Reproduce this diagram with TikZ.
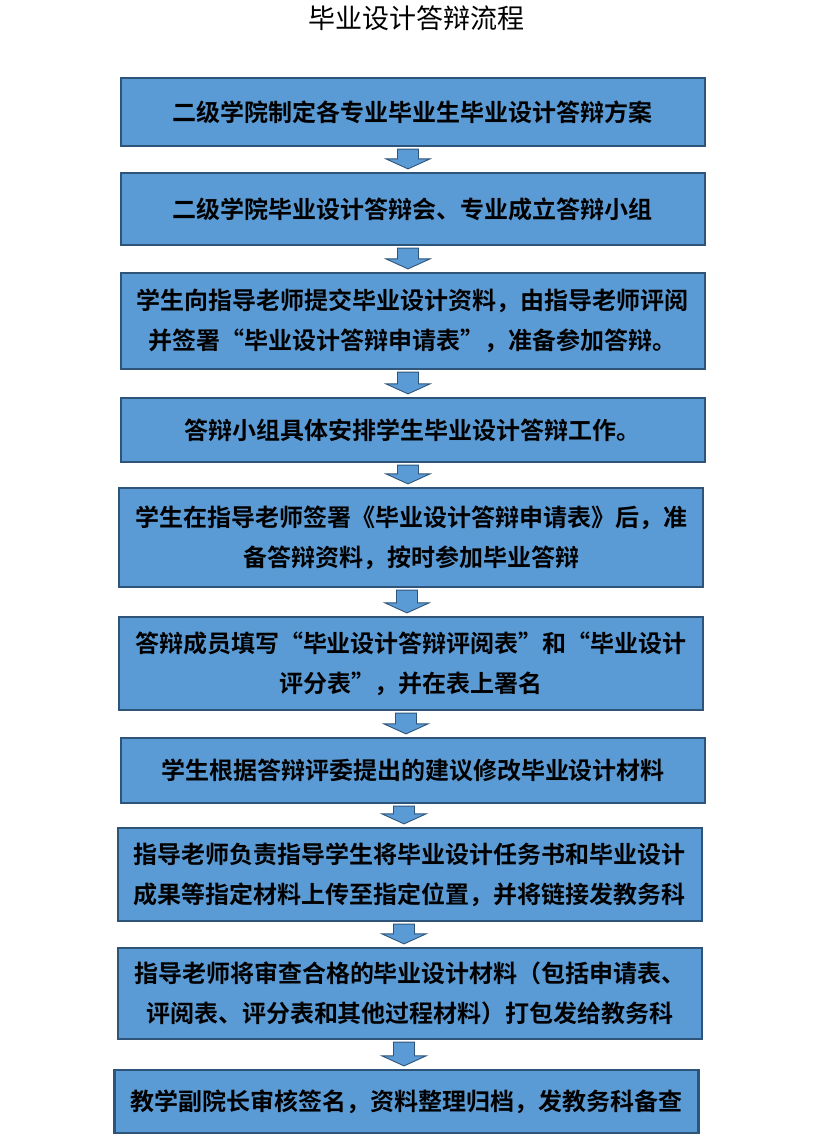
\documentclass[tikz,border=0pt]{standalone}
\usepackage{fontspec}
\newfontfamily\cjk{Noto Sans CJK SC}[BoldFont={Noto Sans CJK SC Bold}]
\usetikzlibrary{calc}

\definecolor{stepfill}{RGB}{91,155,213}
\definecolor{stepline}{RGB}{46,84,122}

\begin{document}
\begin{tikzpicture}[x=1pt,y=-1pt,
  stepbox/.style={draw=stepline,line width=2.2pt,fill=stepfill,rectangle,
    minimum width=584pt,inner sep=0pt,align=center,
    font=\cjk\bfseries\fontsize{24pt}{40pt}\selectfont},
  arrowbox/.style={draw=stepline,line width=0.9pt,fill=stepfill,line join=miter}]

\useasboundingbox (0,0) rectangle (831,1144);

\newcommand\flowarrow[3]{%
  \draw[arrowbox] let \p1=(#1.south), \p2=(#2.north) in
    (#3pt-10.5pt,\y1-2pt) -- (#3pt+10.5pt,\y1-2pt) -- (#3pt+10.5pt,\y2+13pt)
    -- (#3pt+22pt,\y2+13pt) -- (#3pt,\y2+3pt) -- (#3pt-22pt,\y2+13pt)
    -- (#3pt-10.5pt,\y2+13pt) -- cycle;}

%% title
\node[font=\cjk\fontsize{27pt}{30pt}\selectfont] (title) at (416,18) {毕业设计答辩流程};

%% steps
\node[stepbox,minimum height=68pt] (s1) at (412.75,112)
  {二级学院制定各专业毕业生毕业设计答辩方案};
\node[stepbox,minimum height=72pt] (s2) at (412.75,209)
  {二级学院毕业设计答辩会、专业成立答辩小组};
\node[stepbox,minimum height=96pt] (s3) at (412.75,321)
  {学生向指导老师提交毕业设计资料，由指导老师评阅\\并签署“毕业设计答辩申请表”，准备参加答辩。};
\node[stepbox,minimum height=64pt] (s4) at (412.75,430)
  {答辩小组具体安排学生毕业设计答辩工作。};
\node[stepbox,minimum height=99pt] (s5) at (411.25,537.5)
  {学生在指导老师签署《毕业设计答辩申请表》后，准\\备答辩资料，按时参加毕业答辩};
\node[stepbox,minimum height=93pt] (s6) at (411,663.5)
  {答辩成员填写“毕业设计答辩评阅表”和“毕业设计\\评分表”，并在表上署名};
\node[stepbox,minimum height=65pt] (s7) at (413,770.5)
  {学生根据答辩评委提出的建议修改毕业设计材料};
\node[stepbox,minimum height=93pt] (s8) at (409.75,874.5)
  {指导老师负责指导学生将毕业设计任务书和毕业设计\\成果等指定材料上传至指定位置，并将链接发教务科};
\node[stepbox,minimum height=91pt] (s9) at (410,993.5)
  {指导老师将审查合格的毕业设计材料（包括申请表、\\评阅表、评分表和其他过程材料）打包发给教务科};
\node[stepbox,minimum height=63pt] (s10) at (406.5,1101.5)
  {教学副院长审核签名，资料整理归档，发教务科备查};

%% arrows
\flowarrow{s1}{s2}{408}
\flowarrow{s2}{s3}{408}
\flowarrow{s3}{s4}{408}
\flowarrow{s4}{s5}{408}
\flowarrow{s5}{s6}{407}
\flowarrow{s6}{s7}{406}
\flowarrow{s7}{s8}{404}
\flowarrow{s8}{s9}{404}
\flowarrow{s9}{s10}{404}

\end{tikzpicture}
\end{document}
